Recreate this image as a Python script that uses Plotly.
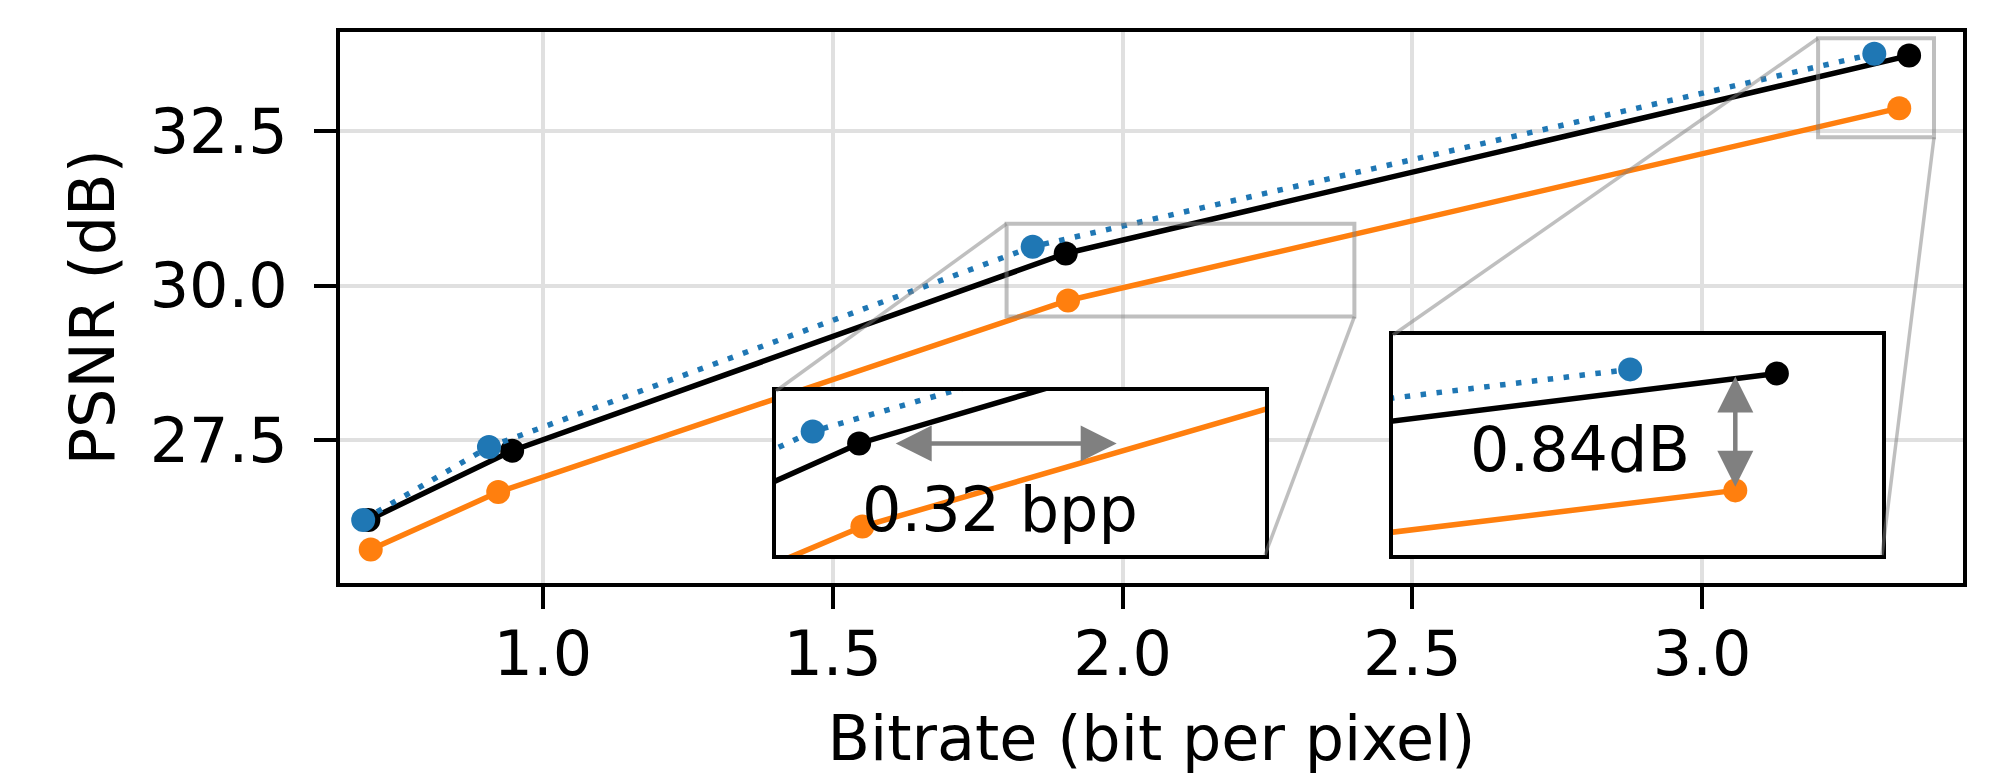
import plotly.graph_objects as go

# ---------------- data ----------------
blue_x = [0.690, 0.907, 1.845, 3.297]
blue_y = [26.21, 27.39, 30.63, 33.75]
black_x = [0.699, 0.947, 1.902, 3.357]
black_y = [26.21, 27.33, 30.52, 33.72]
orange_x = [0.703, 0.923, 1.906, 3.340]
orange_y = [25.73, 26.66, 29.76, 32.87]

x_ticks = [1.0, 1.5, 2.0, 2.5, 3.0]
y_ticks = [27.5, 30.0, 32.5]

main_xrange = [0.65, 3.45]
main_yrange = [25.19, 34.11]
inset1_xrange = [1.8, 2.4]
inset1_yrange = [29.5, 31.0]
inset2_xrange = [3.2, 3.4]
inset2_yrange = [32.4, 34.0]

# annotation values
bpp_arrow_x = [1.945, 2.218]
bpp_arrow_y = 30.52
bpp_text = "0.32 bpp"
bpp_text_pos = [2.075, 29.92]
db_arrow_x = 3.340
db_arrow_y = [32.897, 33.709]
db_text = "0.84dB"
db_text_pos = [3.2764, 33.166]

# ---------------- layout geometry ----------------
# the html body has an 8px margin, so the figure is drawn 8px in from the corner
OFF = 8
W, H = 2005 - OFF, 783 - OFF
FONT = "DejaVu Sans"
FS = 62

def dom_x(a, b):
    return [(a - OFF) / W, (b - OFF) / W]

def dom_y(top, bottom):
    return [1 - (bottom - OFF) / H, 1 - (top - OFF) / H]

main_dx = dom_x(340, 1963)
main_dy = dom_y(31.5, 583)
in1_dx = dom_x(776, 1265)
in1_dy = dom_y(391, 555)
in2_dx = dom_x(1393, 1882)
in2_dy = dom_y(335, 555)

BLUE = "#1f77b4"
ORANGE = "#ff7f0e"
GRAYA = "rgba(128,128,128,0.5)"
LW = 5.5
MS = 24

fig = go.Figure()

def add_series(xa, ya):
    fig.add_trace(go.Scatter(x=orange_x, y=orange_y, mode="lines+markers",
                             line=dict(color=ORANGE, width=LW),
                             marker=dict(color=ORANGE, size=MS),
                             xaxis=xa, yaxis=ya, showlegend=False, hoverinfo="skip"))
    fig.add_trace(go.Scatter(x=black_x, y=black_y, mode="lines+markers",
                             line=dict(color="black", width=LW),
                             marker=dict(color="black", size=MS),
                             xaxis=xa, yaxis=ya, showlegend=False, hoverinfo="skip"))
    fig.add_trace(go.Scatter(x=blue_x, y=blue_y, mode="lines+markers",
                             line=dict(color=BLUE, width=LW, dash="5.5px,10.5px"),
                             marker=dict(color=BLUE, size=MS),
                             xaxis=xa, yaxis=ya, showlegend=False, hoverinfo="skip"))

add_series("x", "y")
add_series("x2", "y2")
add_series("x3", "y3")

axis_common = dict(showline=True, mirror=True, linecolor="black", linewidth=3.8,
                   zeroline=False, fixedrange=True, automargin=False)

fig.update_layout(
    width=W, height=H,
    margin=dict(l=0, r=0, t=0, b=0),
    paper_bgcolor="white", plot_bgcolor="white",
    font=dict(family=FONT, size=FS, color="black"),
    showlegend=False,
    xaxis=dict(domain=main_dx, range=main_xrange, anchor="y",
               tickvals=x_ticks, tickformat=".1f", ticks="outside", ticklen=22,
               tickwidth=3.5, tickcolor="black", showgrid=True, gridcolor="#e0e0e0",
               gridwidth=3.5, tickfont=dict(family=FONT, size=FS), ticklabelstandoff=-8,
               title=dict(text="Bitrate (bit per pixel)", standoff=28,
                          font=dict(family=FONT, size=FS)),
               **axis_common),
    yaxis=dict(domain=main_dy, range=main_yrange, anchor="x",
               tickvals=y_ticks, tickformat=".1f", ticks="outside", ticklen=22,
               tickwidth=3.5, tickcolor="black", showgrid=True, gridcolor="#e0e0e0",
               gridwidth=3.5, tickfont=dict(family=FONT, size=FS), ticklabelstandoff=14,
               title=dict(text="PSNR (dB)", standoff=16,
                          font=dict(family=FONT, size=FS)),
               **axis_common),
    xaxis2=dict(domain=in1_dx, range=inset1_xrange, anchor="y2",
                showticklabels=False, ticks="", showgrid=False, **axis_common),
    yaxis2=dict(domain=in1_dy, range=inset1_yrange, anchor="x2",
                showticklabels=False, ticks="", showgrid=False, **axis_common),
    xaxis3=dict(domain=in2_dx, range=inset2_xrange, anchor="y3",
                showticklabels=False, ticks="", showgrid=False, **axis_common),
    yaxis3=dict(domain=in2_dy, range=inset2_yrange, anchor="x3",
                showticklabels=False, ticks="", showgrid=False, **axis_common),
)

# zoom indicator rectangles on the main axes
for xr, yr in [(inset1_xrange, inset1_yrange), (inset2_xrange, inset2_yrange)]:
    fig.add_shape(type="rect", xref="x", yref="y", x0=xr[0], x1=xr[1], y0=yr[0], y1=yr[1],
                  line=dict(color=GRAYA, width=4), layer="above")

def px_x(v):
    return main_dx[0] + (v - main_xrange[0]) / (main_xrange[1] - main_xrange[0]) * (main_dx[1] - main_dx[0])

def px_y(v):
    return main_dy[0] + (v - main_yrange[0]) / (main_yrange[1] - main_yrange[0]) * (main_dy[1] - main_dy[0])

# connector lines: rect top-left -> inset top-left, rect bottom-right -> inset bottom-right
for xr, yr, dx, dy in [(inset1_xrange, inset1_yrange, in1_dx, in1_dy),
                       (inset2_xrange, inset2_yrange, in2_dx, in2_dy)]:
    fig.add_shape(type="line", xref="paper", yref="paper",
                  x0=px_x(xr[0]), y0=px_y(yr[1]), x1=dx[0], y1=dy[1],
                  line=dict(color=GRAYA, width=3.5), layer="above")
    fig.add_shape(type="line", xref="paper", yref="paper",
                  x0=px_x(xr[1]), y0=px_y(yr[0]), x1=dx[1], y1=dy[0],
                  line=dict(color=GRAYA, width=3.5), layer="above")

# double-headed arrows
fig.add_annotation(xref="x2", yref="y2", axref="x2", ayref="y2",
                   x=bpp_arrow_x[1], y=bpp_arrow_y, ax=bpp_arrow_x[0], ay=bpp_arrow_y,
                   text="", showarrow=True, arrowhead=2, startarrowhead=2,
                   arrowside="end+start", arrowsize=1.6, startarrowsize=1.6,
                   arrowwidth=4.5, arrowcolor="#808080", standoff=0, startstandoff=0,
                   font=dict(size=1))
fig.add_annotation(xref="x3", yref="y3", axref="x3", ayref="y3",
                   x=db_arrow_x, y=db_arrow_y[0], ax=db_arrow_x, ay=db_arrow_y[1],
                   text="", showarrow=True, arrowhead=2, startarrowhead=2,
                   arrowside="end+start", arrowsize=1.6, startarrowsize=1.6,
                   arrowwidth=4.5, arrowcolor="#808080", standoff=0, startstandoff=0,
                   font=dict(size=1))

fig.add_annotation(xref="x2", yref="y2", x=bpp_text_pos[0], y=bpp_text_pos[1],
                   text=bpp_text, showarrow=False, xanchor="center", yanchor="middle",
                   font=dict(family=FONT, size=FS, color="black"))
fig.add_annotation(xref="x3", yref="y3", x=db_text_pos[0], y=db_text_pos[1],
                   text=db_text, showarrow=False, xanchor="center", yanchor="middle",
                   font=dict(family=FONT, size=FS, color="black"))

fig.write_html("out.html")
